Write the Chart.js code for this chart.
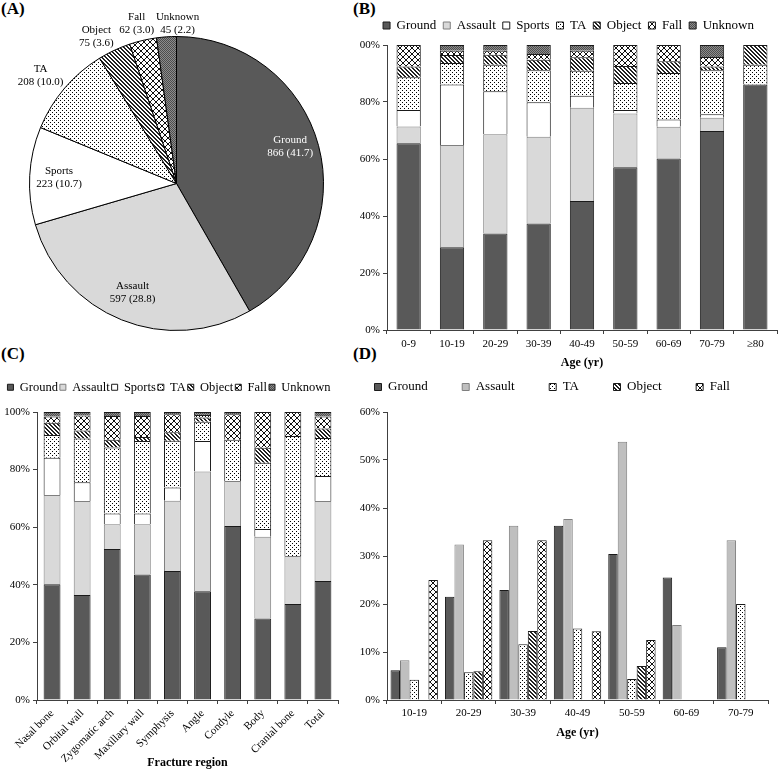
<!DOCTYPE html>
<html>
<head>
<meta charset="utf-8">
<script src="https://cdn.jsdelivr.net/npm/chart.js@4.4.1/dist/chart.umd.min.js"></script>
<style>
  body { margin: 0; background: #fff; width: 778px; height: 770px; position: relative; overflow: hidden; }
  canvas { position: absolute; }
  .tag { position: absolute; font: bold 17px 'Liberation Serif', serif; line-height: 1; color: #000; }
</style>
</head>
<body>
<div class="tag" style="left:1px;top:0">(A)</div>
<div class="tag" style="left:353px;top:0">(B)</div>
<div class="tag" style="left:1px;top:345px">(C)</div>
<div class="tag" style="left:353px;top:345px">(D)</div>

<canvas id="pie" width="340" height="370" style="left:0;top:0"></canvas>
<canvas id="age" width="438" height="368" style="left:340px;top:12px"></canvas>
<canvas id="region" width="350" height="391" style="left:0;top:379px"></canvas>
<canvas id="ageMech" width="438" height="424" style="left:340px;top:346px"></canvas>

<script>
// ---- data ----
var MECHS = ['Ground', 'Assault', 'Sports', 'TA', 'Object', 'Fall', 'Unknown'];

// (A) counts by mechanism
var PIE_COUNTS = [866, 597, 223, 208, 75, 62, 45];

// (B) % by age group
var AGES = ['0-9', '10-19', '20-29', '30-39', '40-49', '50-59', '60-69', '70-79', '\u226580'];
var AGE_GROUND  = [65.5, 29.0, 33.9, 37.4, 45.3, 57.1, 60.2, 69.8, 86.1];
var AGE_ASSAULT = [5.9, 35.9, 34.8, 30.4, 32.7, 18.9, 11.1, 4.7, 0];
var AGE_SPORTS  = [5.8, 21.2, 15.1, 12.1, 4.2, 1.2, 2.6, 1.2, 0];
var AGE_TA      = [11.5, 7.6, 9.3, 11.2, 8.8, 9.5, 16.3, 15.4, 7.0];
var AGE_OBJECT  = [3.8, 2.8, 3.5, 3.7, 4.7, 5.9, 4.1, 1.4, 6.9];
var AGE_FALL    = [7.5, 1.5, 1.4, 2.0, 2.3, 7.4, 5.7, 3.3, 0];
var AGE_UNKNOWN = [0, 2.0, 2.0, 3.2, 2.0, 0, 0, 4.2, 0];

// (C) % by fracture region
var REGIONS = ['Nasal bone', 'Orbital wall', 'Zygomatic arch', 'Maxillary wall', 'Symphysis',
  'Angle', 'Condyle', 'Body', 'Cranial bone', 'Total'];
var REG_GROUND  = [40.2, 36.5, 52.4, 43.6, 44.8, 37.8, 60.4, 28.3, 33.3, 41.3];
var REG_ASSAULT = [31.0, 32.6, 8.6, 17.4, 24.4, 41.5, 15.6, 28.4, 16.7, 27.8];
var REG_SPORTS  = [12.9, 6.5, 3.8, 3.8, 4.6, 10.6, 0, 2.7, 0, 8.7];
var REG_TA      = [7.9, 15.2, 22.9, 25.1, 16.2, 6.7, 14.4, 23.0, 41.7, 13.2];
var REG_OBJECT  = [4.3, 2.8, 2.7, 1.4, 3.0, 1.5, 0, 5.2, 0, 3.3];
var REG_FALL    = [2.1, 5.2, 8.2, 7.3, 6.2, 0.9, 8.8, 12.4, 8.3, 4.1];
var REG_UNKNOWN = [1.6, 1.2, 1.4, 1.4, 0.8, 1.0, 0.8, 0, 0, 1.6];

// (D) % by age group, grouped
var AGES_D = ['10-19', '20-29', '30-39', '40-49', '50-59', '60-69', '70-79'];
var D_MECHS   = ['Ground', 'Assault', 'TA', 'Object', 'Fall'];
var D_GROUND  = [6.2, 21.5, 22.9, 36.3, 30.4, 25.5, 11.0];
var D_ASSAULT = [8.3, 32.4, 36.3, 37.7, 53.8, 15.6, 33.3];
var D_TA      = [4.2, 5.8, 11.6, 14.9, 4.4, 0, 20.0];
var D_OBJECT  = [0, 6.0, 14.4, 0, 7.1, 0, 0];
var D_FALL    = [25.0, 33.3, 33.3, 14.3, 12.5, 0, 0];

// ---- styles ----
var SERIF = "'Liberation Serif', 'Times New Roman', serif";
var AXIS = '#404040';
var TICK_FONT = { family: SERIF, size: 11 };
var TITLE_FONT = { family: SERIF, size: 12, weight: 'bold' };
var PIE_NUDGE = [[0, -7], [0, 0], [0, 0], [-2, 0], [-8, 3], [-1, 2], [13, 6]];

Chart.defaults.font.family = SERIF;
Chart.defaults.color = '#000';

function makePattern(size, paint) {
  var c = document.createElement('canvas');
  c.width = c.height = size;
  var g = c.getContext('2d');
  paint(g, size);
  return g.createPattern(c, 'repeat');
}

var DOTS = makePattern(4, function (g, n) {
  g.fillStyle = '#fff'; g.fillRect(0, 0, n, n);
  g.fillStyle = '#000'; g.fillRect(0, 0, 1, 1); g.fillRect(2, 2, 1, 1);
});
var STRIPES = makePattern(4, function (g, n) {
  g.fillStyle = '#fff'; g.fillRect(0, 0, n, n);
  g.fillStyle = '#222';
  for (var i = 0; i < n; i++) { g.fillRect(i, i, 1, 1); g.fillRect((i + 1) % n, i, 1, 1); }
});
var CROSS = makePattern(6, function (g, n) {
  g.fillStyle = '#fff'; g.fillRect(0, 0, n, n);
  g.fillStyle = '#111';
  for (var i = 0; i < n; i++) { g.fillRect(i, i, 1, 1); g.fillRect(n - 1 - i, i, 1, 1); }
});
var GRAIN = makePattern(2, function (g) {
  g.fillStyle = '#8c8c8c'; g.fillRect(0, 0, 2, 2);
  g.fillStyle = '#4d4d4d'; g.fillRect(0, 0, 1, 1); g.fillRect(1, 1, 1, 1);
});

var FILLS = [ '#595959', '#d9d9d9', '#ffffff', DOTS, STRIPES, CROSS, GRAIN ];
var EDGES = [ '#1a1a1a', '#7f7f7f', '#1a1a1a', '#1a1a1a', '#1a1a1a', '#1a1a1a', '#1a1a1a' ];
var D_FILLS = [ '#595959', '#bfbfbf', DOTS, STRIPES, CROSS ];
var D_EDGES = [ '#1a1a1a', '#7f7f7f', '#1a1a1a', '#1a1a1a', '#1a1a1a' ];

// empty layout box that pushes the plot down under the legend
function spacer(h) {
  return {
    id: 'spacer',
    beforeInit: function (chart) {
      Chart.layouts.addBox(chart, {
        position: 'top', weight: 10, fullSize: true, options: {},
        left: 0, top: 0, right: 0, bottom: 0, width: 0, height: 0,
        isHorizontal: function () { return true; },
        update: function (w) { this.width = w; this.height = h; },
        draw: function () {}
      });
    }
  };
}

function legendOpts(size, box, pad, align) {
  return {
    position: 'top',
    align: align,
    labels: { color: '#000', font: { family: SERIF, size: size }, boxWidth: box, boxHeight: box, padding: pad }
  };
}

function yAxis(max, step, width, stacked) {
  return {
    stacked: stacked, min: 0, max: max,
    ticks: { stepSize: step, color: '#000', font: TICK_FONT, padding: 3,
      callback: function (v) { return v + '%'; } },
    grid: { drawOnChartArea: false, drawTicks: true, tickLength: 4, color: AXIS },
    border: { color: AXIS },
    afterFit: function (s) { s.width = width; }
  };
}

function xAxis(title, height, tickPad, titlePad, rotation, stacked) {
  return {
    stacked: stacked,
    ticks: { color: '#000', font: TICK_FONT, padding: tickPad, autoSkip: false,
      maxRotation: rotation, minRotation: rotation },
    grid: { drawOnChartArea: false, drawTicks: true, tickLength: 4, color: AXIS, offset: true },
    border: { color: AXIS },
    title: { display: true, text: title, color: '#000', font: TITLE_FONT, padding: { top: 0, bottom: titlePad } },
    afterFit: function (s) { s.height = height; }
  };
}

function stackSets(series, names, fills, edges, barPct) {
  return series.map(function (d, i) {
    return {
      label: names[i], data: d,
      backgroundColor: fills[i], borderColor: edges[i], borderWidth: 1,
      barPercentage: barPct, categoryPercentage: 1
    };
  });
}

// ---- (A) pie ----
var pieLabels = {
  id: 'pieLabels',
  afterDatasetsDraw: function (chart) {
    var ctx = chart.ctx;
    var total = PIE_COUNTS.reduce(function (a, b) { return a + b; }, 0);
    ctx.save();
    ctx.font = '11px ' + SERIF;
    ctx.textAlign = 'center';
    ctx.textBaseline = 'middle';
    chart.getDatasetMeta(0).data.forEach(function (arc, i) {
      var p = arc.getProps(['x', 'y', 'startAngle', 'endAngle', 'outerRadius'], true);
      var mid = (p.startAngle + p.endAngle) / 2;
      var dx = Math.cos(mid), dy = Math.sin(mid);
      var lines = [MECHS[i], PIE_COUNTS[i] + ' (' + (PIE_COUNTS[i] / total * 100).toFixed(1) + ')'];
      var cx, cy;
      if (PIE_COUNTS[i] / total > 0.105) {
        cx = p.x + dx * p.outerRadius * 0.8;
        cy = p.y + dy * p.outerRadius * 0.8;
      } else {
        var w = Math.max(ctx.measureText(lines[0]).width, ctx.measureText(lines[1]).width);
        cx = p.x + dx * (p.outerRadius + 6) + dx * w / 2;
        cy = p.y + dy * (p.outerRadius + 6) + dy * 13;
      }
      cx += PIE_NUDGE[i][0];
      cy += PIE_NUDGE[i][1];
      ctx.fillStyle = i === 0 ? '#fff' : '#000';
      ctx.fillText(lines[0], cx, cy - 6.5);
      ctx.fillText(lines[1], cx, cy + 6.5);
    });
    ctx.restore();
  }
};

new Chart(document.getElementById('pie'), {
  type: 'pie',
  data: {
    labels: MECHS,
    datasets: [{ data: PIE_COUNTS, backgroundColor: FILLS, borderColor: '#000', borderWidth: 1 }]
  },
  options: {
    responsive: false, animation: false, events: [],
    layout: { padding: { left: 29, right: 16, top: 36, bottom: 39 } },
    plugins: { legend: { display: false }, tooltip: { enabled: false } }
  },
  plugins: [pieLabels]
});

// ---- (B) stacked by age ----
new Chart(document.getElementById('age'), {
  type: 'bar',
  data: {
    labels: AGES,
    datasets: stackSets([AGE_GROUND, AGE_ASSAULT, AGE_SPORTS, AGE_TA, AGE_OBJECT, AGE_FALL, AGE_UNKNOWN],
      MECHS, FILLS, EDGES, 0.56)
  },
  options: {
    responsive: false, animation: false, events: [],
    layout: { padding: { left: 20, right: 1, top: 0, bottom: 0 } },
    plugins: { legend: legendOpts(13, 7, 7, 'center'), tooltip: { enabled: false } },
    scales: {
      x: xAxis('Age (yr)', 50, 4, 10, 0, true),
      y: yAxis(100, 20, 27, true)
    }
  },
  plugins: [spacer(3)]
});

// ---- (C) stacked by fracture region ----
new Chart(document.getElementById('region'), {
  type: 'bar',
  data: {
    labels: REGIONS,
    datasets: stackSets([REG_GROUND, REG_ASSAULT, REG_SPORTS, REG_TA, REG_OBJECT, REG_FALL, REG_UNKNOWN],
      MECHS, FILLS, EDGES, 0.56)
  },
  options: {
    responsive: false, animation: false, events: [],
    layout: { padding: { left: 0, right: 12, top: 0, bottom: 0 } },
    plugins: { legend: legendOpts(12.5, 6, 2, 'center'), tooltip: { enabled: false } },
    scales: {
      x: xAxis('Fracture region', 70, 3, 0, 45, true),
      y: yAxis(100, 20, 37, true)
    }
  },
  plugins: [spacer(8.5)]
});

// ---- (D) grouped by age ----
new Chart(document.getElementById('ageMech'), {
  type: 'bar',
  data: {
    labels: AGES_D,
    datasets: [D_GROUND, D_ASSAULT, D_TA, D_OBJECT, D_FALL].map(function (d, i) {
      return {
        label: D_MECHS[i], data: d,
        backgroundColor: D_FILLS[i], borderColor: D_EDGES[i], borderWidth: 1,
        barPercentage: 1, categoryPercentage: 0.87
      };
    })
  },
  options: {
    responsive: false, animation: false, events: [],
    layout: { padding: { left: 0, right: 10, top: 0, bottom: 0 } },
    plugins: { legend: legendOpts(13, 7, 34.5, 'start'), tooltip: { enabled: false } },
    scales: {
      x: xAxis('Age (yr)', 70, 2.4, 30, 0, false),
      y: yAxis(60, 10, 47, false)
    }
  },
  plugins: [spacer(8.5)]
});
</script>
</body>
</html>
